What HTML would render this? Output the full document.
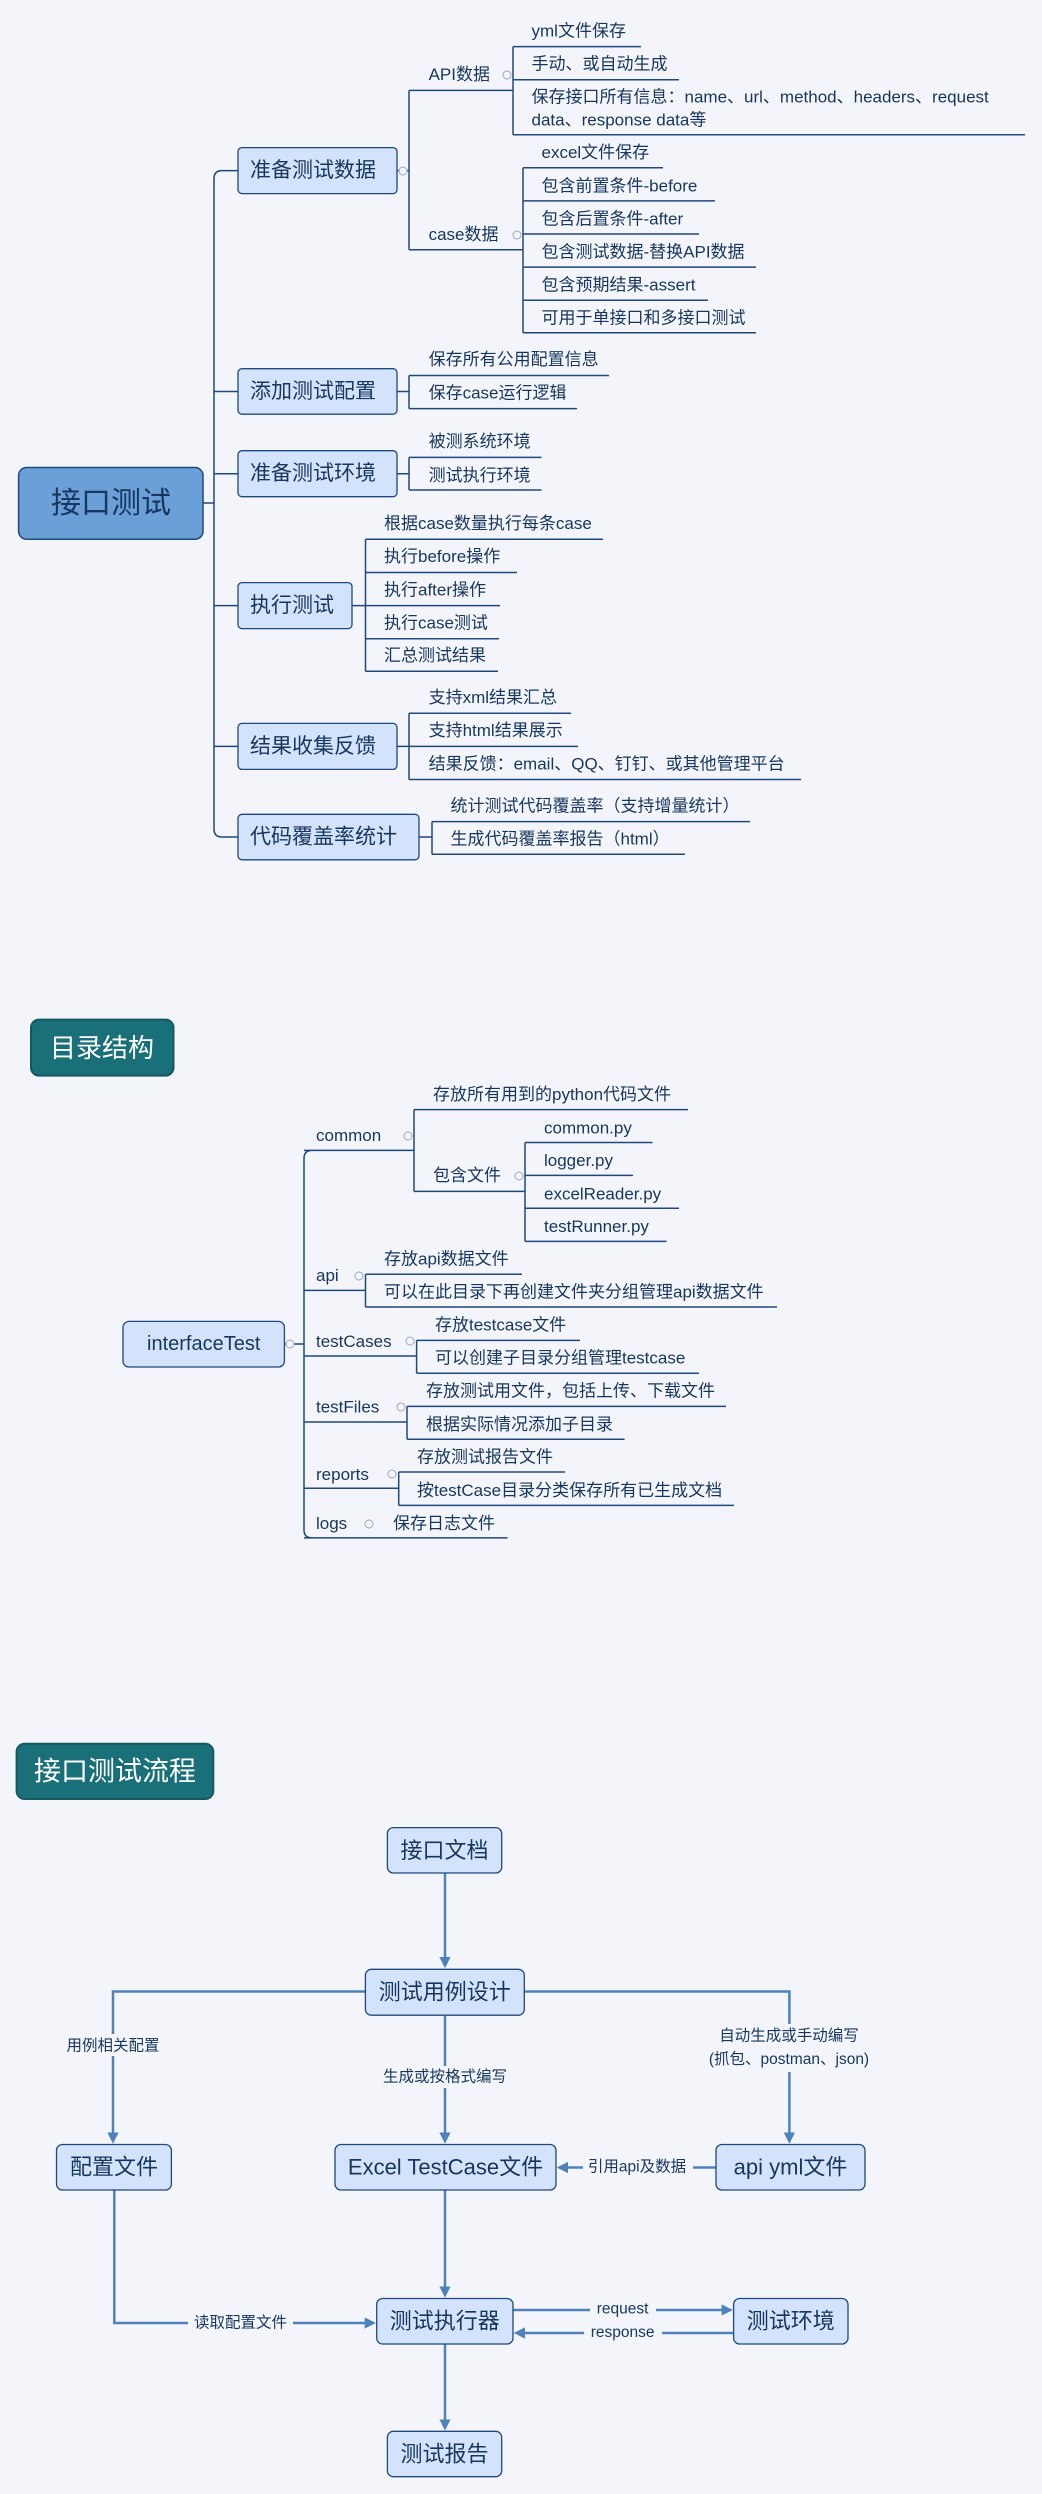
<!DOCTYPE html>
<html><head><meta charset="utf-8"><style>
html,body{margin:0;padding:0;background:#f3f5fa;}
svg{display:block}
text{font-family:"Liberation Sans","Noto Sans CJK SC",sans-serif;fill:#17365d;dominant-baseline:central}
.l{font-size:17px}
.ln{stroke:#1f497d;stroke-width:1.5;fill:none}
.bx{fill:#d3e3fb;stroke:#1f497d;stroke-width:1.3}
.b1{font-size:21px}
.c{fill:#f3f5fa;stroke:#9aa8c0;stroke-width:1}
.fl{stroke:#4f81bd;stroke-width:2.5;fill:none}
.lab{font-size:15.5px;text-anchor:middle}
.nd{font-size:22px;text-anchor:middle}
</style></head><body>
<svg width="1042" height="2494" viewBox="0 0 1042 2494" xmlns="http://www.w3.org/2000/svg">
<defs><marker id="ar" viewBox="0 0 10 10" refX="8" refY="5" markerWidth="4.5" markerHeight="4.5" orient="auto"><path d="M0,0L10,5L0,10z" fill="#4f81bd"/></marker></defs>
<rect width="1042" height="2494" fill="#f3f5fa"/>

<!-- ===== Section 1 ===== -->
<path class="ln" d="M203,503 H214 M238,170.6 H222 Q214,170.6 214,178.6 V829 Q214,837 222,837 H238 M214,391.5 H238 M214,473.7 H238 M214,605.6 H238 M214,746.4 H238"/>
<rect x="18.6" y="467.5" width="184.4" height="71.8" rx="8" fill="#6a9fd8" stroke="#1f497d" stroke-width="1.5"/>
<text x="111" y="503.5" font-size="30" text-anchor="middle" fill="#17365d">接口测试</text>

<rect class="bx" x="238" y="147.6" width="159" height="46" rx="4"/><text class="b1" x="250" y="170.6">准备测试数据</text>
<rect class="bx" x="238" y="368.7" width="159" height="45.5" rx="4"/><text class="b1" x="250" y="391.5">添加测试配置</text>
<rect class="bx" x="238" y="450.7" width="159" height="46" rx="4"/><text class="b1" x="250" y="473.7">准备测试环境</text>
<rect class="bx" x="238" y="582.6" width="114" height="46" rx="4"/><text class="b1" x="250" y="605.6">执行测试</text>
<rect class="bx" x="238" y="723.4" width="159" height="46" rx="4"/><text class="b1" x="250" y="746.4">结果收集反馈</text>
<rect class="bx" x="238" y="814.3" width="181" height="45.5" rx="4"/><text class="b1" x="250" y="837">代码覆盖率统计</text>

<!-- 准备测试数据 -->
<path class="ln" d="M397,170.6 H409 M409,90.4 V249.7 M409,90.4 H513 M409,249.7 H523
M513,46.6 V134.7 M513,46.6 H641 M513,79.7 H679 M513,134.7 H1025
M523,167.8 V332.8 M523,167.8 H663 M523,200.9 H715 M523,234 H699 M523,267.1 H756 M523,300.3 H708 M523,332.8 H756"/>
<text class="l" x="428.6" y="74.6">API数据</text><circle class="c" cx="507" cy="75" r="4"/>
<text class="l" x="428.6" y="234.6">case数据</text><circle class="c" cx="517" cy="235" r="4"/>
<circle class="c" cx="403" cy="171" r="4"/>
<text class="l" x="531.5" y="30.9">yml文件保存</text>
<text class="l" x="531.5" y="64">手动、或自动生成</text>
<text class="l" x="531.5" y="97.1">保存接口所有信息：name、url、method、headers、request</text>
<text class="l" x="531.5" y="120.1">data、response data等</text>
<text class="l" x="541.5" y="152.7">excel文件保存</text>
<text class="l" x="541.5" y="185.8">包含前置条件-before</text>
<text class="l" x="541.5" y="218.9">包含后置条件-after</text>
<text class="l" x="541.5" y="252">包含测试数据-替换API数据</text>
<text class="l" x="541.5" y="285.1">包含预期结果-assert</text>
<text class="l" x="541.5" y="318.2">可用于单接口和多接口测试</text>

<!-- 添加测试配置 -->
<path class="ln" d="M397,391.5 H409 M409,375.5 V408.6 M409,375.5 H609 M409,408.6 H577"/>
<text class="l" x="428.6" y="359.7">保存所有公用配置信息</text>
<text class="l" x="428.6" y="392.9">保存case运行逻辑</text>
<!-- 准备测试环境 -->
<path class="ln" d="M397,473.7 H409 M409,457.4 V490 M409,457.4 H541.5 M409,490 H541.5"/>
<text class="l" x="428.6" y="441.7">被测系统环境</text>
<text class="l" x="428.6" y="475.4">测试执行环境</text>
<!-- 执行测试 -->
<path class="ln" d="M352,605.6 H365.5 M365.5,539.3 V671.2 M365.5,539.3 H603 M365.5,572.5 H517 M365.5,605.6 H500 M365.5,638.7 H499 M365.5,671.2 H498"/>
<text class="l" x="384" y="523.6">根据case数量执行每条case</text>
<text class="l" x="384" y="556.7">执行before操作</text>
<text class="l" x="384" y="589.8">执行after操作</text>
<text class="l" x="384" y="623">执行case测试</text>
<text class="l" x="384" y="655.5">汇总测试结果</text>
<!-- 结果收集反馈 -->
<path class="ln" d="M397,746.4 H409 M409,713.3 V779.5 M409,713.3 H571 M409,746.4 H578 M409,779.5 H801"/>
<text class="l" x="428.6" y="697.6">支持xml结果汇总</text>
<text class="l" x="428.6" y="730.7">支持html结果展示</text>
<text class="l" x="428.6" y="763.8">结果反馈：email、QQ、钉钉、或其他管理平台</text>
<!-- 代码覆盖率统计 -->
<path class="ln" d="M419,837 H432 M432,821.6 V854.2 M432,821.6 H750 M432,854.2 H685"/>
<text class="l" x="450.5" y="805.9">统计测试代码覆盖率（支持增量统计）</text>
<text class="l" x="450.5" y="839">生成代码覆盖率报告（html）</text>

<!-- ===== Section 2 ===== -->
<rect x="31" y="1019.6" width="142.5" height="56" rx="8" fill="#1a7078" stroke="#135a60" stroke-width="2"/>
<text x="102" y="1048" font-size="26" text-anchor="middle" style="fill:#fff">目录结构</text>

<path class="ln" d="M284.4,1344 H304 M312,1150.4 Q304,1150.4 304,1158.4 V1529.9 Q304,1537.9 312,1537.9
M304,1150.4 H414 M414,1109.6 V1191.4 M414,1109.6 H688 M414,1191.4 H525
M525,1142.5 V1241.4 M525,1142.5 H652.5 M525,1175.4 H633 M525,1208.2 H679 M525,1241.4 H666.5
M304,1290.4 H365.5 M365.5,1274.3 V1307 M365.5,1274.3 H522 M365.5,1307 H777
M304,1356 H416.6 M416.6,1340.4 V1373.2 M416.6,1340.4 H580 M416.6,1373.2 H699
M304,1422 H407 M407,1406.4 V1439.3 M407,1406.4 H726 M407,1439.3 H624.6
M304,1488.2 H398.7 M398.7,1472 V1505.4 M398.7,1472 H565 M398.7,1505.4 H734
M304,1537.9 H507.6"/>
<rect class="bx" x="123" y="1321.4" width="161.4" height="45.6" rx="6"/>
<text x="203.7" y="1344.2" font-size="20" text-anchor="middle">interfaceTest</text>
<circle class="c" cx="290" cy="1344" r="4"/>
<text class="l" x="316" y="1135.7">common</text><circle class="c" cx="408" cy="1136" r="4"/>
<text class="l" x="433" y="1094.6">存放所有用到的python代码文件</text>
<text class="l" x="433" y="1175.7">包含文件</text><circle class="c" cx="519" cy="1176" r="4"/>
<text class="l" x="544" y="1127.9">common.py</text>
<text class="l" x="544" y="1160.7">logger.py</text>
<text class="l" x="544" y="1193.9">excelReader.py</text>
<text class="l" x="544" y="1226.4">testRunner.py</text>
<text class="l" x="316" y="1275.7">api</text><circle class="c" cx="359" cy="1276" r="4"/>
<text class="l" x="384" y="1259">存放api数据文件</text>
<text class="l" x="384" y="1292">可以在此目录下再创建文件夹分组管理api数据文件</text>
<text class="l" x="316" y="1341.4">testCases</text><circle class="c" cx="410" cy="1341" r="4"/>
<text class="l" x="435" y="1325">存放testcase文件</text>
<text class="l" x="435" y="1358.2">可以创建子目录分组管理testcase</text>
<text class="l" x="316" y="1407">testFiles</text><circle class="c" cx="401" cy="1407" r="4"/>
<text class="l" x="426" y="1391">存放测试用文件，包括上传、下载文件</text>
<text class="l" x="426" y="1424.3">根据实际情况添加子目录</text>
<text class="l" x="316" y="1474.3">reports</text><circle class="c" cx="392" cy="1474" r="4"/>
<text class="l" x="417" y="1457">存放测试报告文件</text>
<text class="l" x="417" y="1490.4">按testCase目录分类保存所有已生成文档</text>
<text class="l" x="316" y="1523.6">logs</text><circle class="c" cx="369" cy="1524" r="4"/>
<text class="l" x="393" y="1523.6">保存日志文件</text>

<!-- ===== Section 3 ===== -->
<rect x="16.6" y="1743.7" width="196.7" height="55.3" rx="8" fill="#1a7078" stroke="#135a60" stroke-width="2"/>
<text x="115" y="1771.5" font-size="27" text-anchor="middle" style="fill:#fff">接口测试流程</text>

<path class="fl" d="M445,1873 V1966" marker-end="url(#ar)"/>
<path class="fl" d="M365.4,1991.5 H113 V2141.5" marker-end="url(#ar)"/>
<path class="fl" d="M524.3,1991.5 H789.4 V2141.5" marker-end="url(#ar)"/>
<path class="fl" d="M445,2015.2 V2141.5" marker-end="url(#ar)"/>
<path class="fl" d="M716,2167.5 H559" marker-end="url(#ar)"/>
<path class="fl" d="M445,2190 V2295.5" marker-end="url(#ar)"/>
<path class="fl" d="M114.3,2190 V2323 H373.7" marker-end="url(#ar)"/>
<path class="fl" d="M513,2310 H730.6" marker-end="url(#ar)"/>
<path class="fl" d="M733.6,2333 H516" marker-end="url(#ar)"/>
<path class="fl" d="M445,2344 V2428.3" marker-end="url(#ar)"/>

<rect x="66" y="2034" width="94" height="22" fill="#f3f5fa"/><text class="lab" x="113" y="2045.8">用例相关配置</text>
<rect x="370" y="2066" width="150" height="22" fill="#f3f5fa"/><text class="lab" x="445" y="2077">生成或按格式编写</text>
<rect x="700" y="2024" width="180" height="48" fill="#f3f5fa"/>
<text class="lab" x="789" y="2036">自动生成或手动编写</text>
<text class="lab" x="789" y="2059.6">(抓包、postman、json)</text>
<rect x="583" y="2156" width="110" height="22" fill="#f3f5fa"/><text class="lab" x="637" y="2167">引用api及数据</text>
<rect x="188" y="2312" width="105" height="22" fill="#f3f5fa"/><text class="lab" x="240.5" y="2323">读取配置文件</text>
<rect x="590" y="2300" width="66" height="20" fill="#f3f5fa"/><text class="lab" x="622.6" y="2309">request</text>
<rect x="584" y="2323" width="78" height="20" fill="#f3f5fa"/><text class="lab" x="622.6" y="2332.5">response</text>

<rect class="bx" x="387.4" y="1827.6" width="114.3" height="45.4" rx="6"/><text class="nd" x="444.5" y="1850.3">接口文档</text>
<rect class="bx" x="365.4" y="1969.3" width="158.9" height="45.9" rx="6"/><text class="nd" x="444.8" y="1992.2">测试用例设计</text>
<rect class="bx" x="56.5" y="2144.5" width="114.9" height="45.5" rx="6"/><text class="nd" x="114" y="2167.2">配置文件</text>
<rect class="bx" x="335" y="2144.5" width="221" height="45.5" rx="6"/><text class="nd" x="445.5" y="2167.2">Excel TestCase文件</text>
<rect class="bx" x="716" y="2144.5" width="149" height="45.5" rx="6"/><text class="nd" x="790.5" y="2167.2">api yml文件</text>
<rect class="bx" x="376.7" y="2298.5" width="136.3" height="45.5" rx="6"/><text class="nd" x="444.8" y="2321.2">测试执行器</text>
<rect class="bx" x="733.6" y="2298.5" width="114.4" height="45.5" rx="6"/><text class="nd" x="790.8" y="2321.2">测试环境</text>
<rect class="bx" x="387.4" y="2431.3" width="114.3" height="45.4" rx="6"/><text class="nd" x="444.5" y="2454">测试报告</text>
</svg>
</body></html>
